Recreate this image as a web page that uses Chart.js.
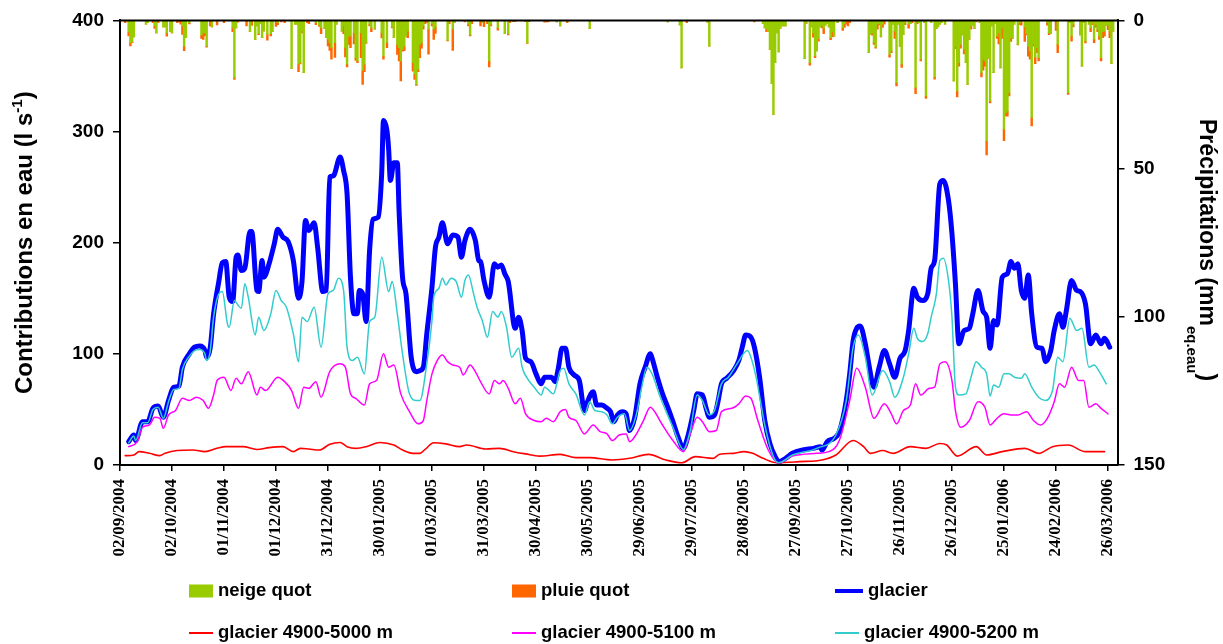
<!DOCTYPE html>
<html>
<head>
<meta charset="utf-8">
<script src="https://cdn.jsdelivr.net/npm/chart.js@4.4.0/dist/chart.umd.min.js"></script>
<style>
  html, body { margin: 0; padding: 0; background: #fff; }
  #wrap { width: 1223px; height: 644px; }
</style>
</head>
<body>
<div id="wrap"><canvas id="chart" width="1223" height="644"></canvas></div>
<script>
// x axis = days since 02/09/2004
const tickDays = [0, 30, 60, 90, 120, 150, 180, 210, 240, 270, 300, 330, 360, 390, 420, 450, 480, 510, 540, 570];
const tickLabels = ['02/09/2004', '02/10/2004', '01/11/2004', '01/12/2004', '31/12/2004', '30/01/2005',
  '01/03/2005', '31/03/2005', '30/04/2005', '30/05/2005', '29/06/2005', '29/07/2005', '28/08/2005',
  '27/09/2005', '27/10/2005', '26/11/2005', '26/12/2005', '25/01/2006', '24/02/2006', '26/03/2006'];

// daily precipitation (mm eq. eau), days without precipitation left out
const precipDays = [
  3, 5, 6, 7, 8, 15, 16, 19, 20, 21, 22, 25, 26, 27, 29, 30, 33, 34, 35, 36, 37, 38, 40,
  47, 48, 49, 50, 52, 53, 56, 60, 65, 66, 67, 68, 73, 75, 76, 78, 79, 80, 81, 82, 83, 85, 87, 88, 90, 91, 93, 95,
  99, 101, 102, 103, 104, 105, 106, 108, 109, 113, 115, 116, 118, 119, 120, 121, 122, 124, 125, 128, 129, 130, 131, 132, 133, 135, 136, 137, 139, 140, 141, 142, 144, 145, 147,
  151, 152, 154, 157, 158, 160, 161, 162, 163, 164, 165, 166, 169, 170, 171, 172, 173, 174, 175, 176, 177, 178, 180, 181, 182,
  189, 190, 192, 193, 199, 201, 202, 203, 208, 209, 210, 212, 213, 214, 218, 222, 224, 225, 227, 228, 234, 235, 236, 245, 246, 247, 252, 254, 258, 271, 316, 323, 324, 327, 339, 340,
  366, 371, 372, 373, 374, 375, 376, 377, 378, 379, 380, 381, 382, 383, 384, 395, 396, 398, 399, 400, 401, 402, 403, 404, 405, 406, 407, 408, 409, 410, 411, 412, 414, 417, 418, 419, 420, 421,
  432, 433, 434, 435, 436, 437, 438, 439, 440, 441, 444, 445, 446, 447, 448, 449, 450, 451, 452, 453, 455, 456, 457, 459, 460, 461, 462, 464, 465, 468, 470, 471, 472, 473, 474, 476,
  481, 482, 483, 484, 485, 486, 487, 488, 489, 490, 491, 492, 493, 494, 496, 497, 498, 499, 500, 501, 502, 503, 504, 505, 506, 507, 508, 509, 510, 511, 512, 513, 514, 515, 516, 518, 519, 520, 522, 523, 524, 525, 526, 527, 528, 529, 530,
  535, 536, 537, 540, 541, 547, 548, 549, 550, 554, 555, 556, 557, 559, 560, 561, 562, 563, 564, 565, 566, 567, 568, 569, 570, 571, 572, 573
];
const snowMm = [
  0, 3.9, 7.5, 7.2, 5.6, 1.3, 0.8, 0, 1.9, 4.2, 0, 2.2, 2.2, 4.2, 3.8, 4.2, 0, 0, 0, 1.9, 8.7, 5.8, 0.8,
  5, 4.2, 4.2, 8.7, 0, 2.2, 0, 0, 2.5, 19.3, 2.5, 0, 0, 3.8, 0, 6.4, 1.9, 4.5, 1, 5.8, 3.4, 4.7, 4.5, 3.8, 0, 0.8, 0, 0,
  16.2, 1.3, 1.3, 14.8, 14.3, 3.6, 17.6, 0, 0, 0.8, 1.6, 2.5, 2.7, 5.8, 6.4, 7.5, 9.2, 7.5, 1.3, 3.6, 1.9, 9.2, 14.8, 5.3, 5.3, 4.2, 12.6, 13.7, 4.2, 16.9, 14.8, 7.5, 1.3, 2.5, 3,
  4.2, 12, 7.5, 2.2, 5.8, 8.1, 9.2, 13.7, 9.8, 8.7, 5.3, 3.6, 14.3, 18.2, 21.6, 16.5, 8.1, 7.5, 1.9, 0, 0, 3, 1.1, 3, 2.2,
  6.7, 0, 3, 0.8, 0, 1.3, 4.9, 0, 0, 0.8, 0, 0, 13.7, 1.3, 2.5, 4.5, 4.5, 0, 0, 0, 0, 7.5, 0, 0.3, 0, 0, 0.5, 1.9, 0.3, 2.8, 0.5, 1.5, 16, 0, 0.6, 8.7,
  0, 1.1, 2.5, 3, 3.8, 9.8, 21.3, 31.7, 14.3, 4.2, 10.6, 2.7, 1.9, 1.9, 1.9, 12.9, 0.8, 14.3, 2.2, 4.2, 12, 10.3, 6.1, 2.2, 1.6, 2.7, 1.6, 1.1, 2.2, 5.8, 3.8, 5.3, 0.8, 2.5, 1.1, 0, 0, 0,
  10.9, 4.7, 4.2, 7.5, 9, 1.3, 1.1, 5.6, 1.3, 0, 11.5, 10.3, 1.3, 3.6, 21, 1.3, 8.7, 14.8, 4.7, 0.8, 1.3, 1.1, 0, 22.7, 0, 0.8, 13.1, 0.8, 25.5, 0.8, 19.1, 2.7, 2.2, 1.3, 0.8, 1.3,
  20.4, 8.7, 23.8, 14.3, 8.1, 4.9, 9.8, 14.3, 21.6, 6.1, 1.9, 1.6, 2.7, 0, 0.8, 17.6, 13.1, 13.7, 40.7, 12.6, 27.2, 1.9, 17.6, 1.1, 5.3, 4.2, 16, 2.5, 36.7, 31.1, 30.6, 24.4, 5.8, 6.1, 1.3, 8.1, 0.8, 0, 2.2, 4.5, 8.7, 10.3, 32.8, 8.1, 12.4, 9.2, 12.6,
  0.8, 4.2, 4.5, 0, 8.1, 24.4, 0.8, 5.3, 1.3, 4.9, 15.4, 0.8, 7, 1.3, 2.5, 0.8, 6.4, 1.3, 3, 5.3, 12.6, 3.8, 3.6, 1.6, 1.6, 3.6, 14.6, 3.6
];
const rainMm = [
  0.8, 1.3, 1.1, 0.3, 0, 0, 0, 0.8, 0.8, 0, 0.8, 0, 0, 1.1, 0, 0, 0.8, 0.5, 1.3, 2.8, 1.5, 0, 0.4,
  1.1, 2.2, 1, 0.3, 1.9, 0, 1.5, 0.8, 1.3, 0.6, 0, 0.6, 1.9, 0, 1.7, 0, 0, 0.3, 0, 0, 0.2, 2, 0.7, 0, 2, 0.6, 0.5, 0.8,
  0, 0, 0, 2.5, 0.4, 0.6, 0, 0.8, 1.1, 0.6, 0.4, 2, 0, 0, 2.2, 2.6, 3.9, 5, 0, 0, 2.6, 3.1, 0.9, 2.8, 3.9, 3.7, 0.9, 0.6, 8.4, 4.7, 2.5, 0.3, 0.6, 1.3, 0,
  1.7, 1.1, 1.7, 0.3, 0, 3.4, 4.5, 6.7, 0.6, 1.5, 0, 2.2, 2.8, 1.7, 0.3, 0.8, 4.5, 1.9, 1.1, 1.1, 0.8, 8.4, 0.8, 3.4, 2.2,
  0.2, 1.1, 7.1, 0, 0.5, 0.6, 0.3, 1.1, 1.9, 0, 2.1, 1.1, 2, 0.6, 0.8, 0, 0.4, 0.8, 0.4, 0.4, 0.4, 0.3, 0.4, 0.3, 0.5, 0.5, 0, 0, 0.5, 0, 0, 0, 0, 0.8, 0, 0,
  0.5, 0, 0, 0.8, 0, 0, 0, 0, 0, 0, 0, 0, 0, 0, 0, 0, 0.2, 0.8, 0, 1.5, 0.6, 0, 0.9, 0, 0.9, 1.8, 0, 0, 0, 0.7, 1.8, 0, 0, 0.9, 1.3, 1.3, 1.9, 0.8,
  0, 0, 0.8, 0.6, 0.4, 1.7, 0.4, 0, 1.1, 1.3, 0.9, 0.6, 0, 2.5, 1.1, 0, 0, 1.1, 0, 0.6, 1.3, 0, 0.8, 2, 1.1, 0, 0.6, 0, 0.8, 0, 0.7, 0, 0, 0, 0, 0,
  0, 0.8, 2, 1.1, 1.3, 0, 1.5, 0, 0, 0.3, 1.1, 0, 0, 0.5, 0, 1.5, 3.7, 1.7, 4.7, 0.2, 0.6, 0, 0, 0, 0.8, 3.7, 0, 3.6, 3.9, 1.1, 1.7, 1.1, 1.3, 0, 0, 0.2, 0.6, 1.6, 4.9, 0.4, 3.4, 2.8, 2.8, 0.6, 2.2, 1.7, 1.1,
  0.8, 0.6, 0, 3.4, 2.8, 0.6, 0, 1.7, 0.9, 0, 0, 0, 0.6, 0, 1.3, 0.6, 1.1, 1.1, 0.8, 1.1, 1.1, 2, 1.7, 0, 1.5, 2.2, 0, 0
];

// contributions en eau (l/s)
const glacierDays = [
  5, 8, 9, 13, 16, 19, 22, 25, 28, 31, 34, 36, 40, 43, 46, 49, 50, 52, 54, 57, 59, 61, 63, 65, 67, 68, 70, 72, 75, 76,
  79, 80, 82, 83, 86, 89, 91, 94, 97, 100, 103, 105, 107, 109, 112, 114, 117, 119, 121, 123, 127, 129, 131, 133, 135, 137, 138, 140, 142, 144,
  146, 149, 151, 152, 154, 155, 156, 158, 160, 161, 163, 165, 168, 171,
  173, 175, 177, 180, 182, 184, 186, 189, 192, 195, 197, 199, 202, 205, 207, 208, 210, 213, 216, 218, 220, 222, 224, 228, 230, 232, 234, 237, 240, 243,
  245, 249, 251, 253, 255, 257, 259, 262, 265, 268, 270, 273, 275, 278, 281, 283, 285, 287, 290, 292, 294, 297, 300, 303, 306, 307, 310, 313, 316, 319,
  322, 325, 328, 331, 333, 336, 338, 340, 343, 345, 347, 350, 354, 357, 359, 361, 364, 366,
  369, 372, 375, 378, 380, 384, 388, 394, 400, 404, 405, 408, 412, 415, 419, 421, 423, 425, 427, 430, 432, 435, 438, 441, 444, 447, 450, 453, 455, 458,
  460, 463, 466, 468, 470, 473, 475, 478, 480, 482, 484, 487, 490, 492, 495, 498, 500, 502, 504, 506, 509, 512, 514, 516, 518, 520, 522, 524, 526, 529,
  532, 534, 537, 539, 542, 544, 546, 549, 552, 554, 557, 560, 563, 566, 568, 571
];
const glacierFlow = [
  21, 27, 22, 39, 39, 51, 53, 43, 58, 70, 71, 88, 100, 106, 107, 103, 97, 105, 136, 165, 182, 183, 151, 147, 187, 189, 175, 177, 210, 210,
  157, 156, 184, 169, 181, 199, 212, 205, 201, 184, 150, 165, 220, 211, 218, 196, 156, 157, 259, 260, 277, 265, 244, 168, 136, 136, 157, 154, 129, 193,
  221, 223, 263, 310, 301, 284, 256, 272, 272, 229, 169, 154, 97, 84,
  85, 88, 118, 160, 196, 205, 218, 199, 207, 205, 187, 202, 212, 202, 184, 183, 166, 151, 181, 178, 180, 172, 165, 123, 133, 121, 96, 93, 82, 73,
  79, 79, 75, 88, 105, 105, 88, 81, 76, 49, 58, 66, 54, 54, 51, 48, 39, 45, 48, 46, 31, 43, 73, 88, 100, 96, 79, 64, 52, 39,
  25, 15, 28, 49, 64, 63, 52, 43, 45, 57, 73, 78, 85, 94, 106, 117, 115, 106,
  79, 40, 19, 7.5, 3, 6, 10.5, 13.5, 15, 16.5, 13.5, 21, 24, 30, 58, 82, 112, 123, 125, 109, 91, 70, 88, 103, 91, 79, 96, 103, 121, 159,
  151, 148, 154, 177, 184, 253, 256, 238, 208, 163, 109, 121, 123, 136, 157, 138, 133, 105, 130, 126, 169, 172, 183, 177, 181, 157, 150, 171, 136, 106,
  105, 93, 103, 121, 136, 124, 139, 166, 157, 156, 145, 109, 117, 109, 114, 106
];

const band5000Days = [
  3, 8, 11, 17, 23, 26, 33, 42, 49, 56, 61, 71, 79, 86, 94, 100, 104, 109, 115, 121,
  127, 131, 136, 142, 150, 158, 163, 169, 173, 176, 181, 188, 196, 200, 211, 219, 227, 234, 242, 254,
  263, 271, 284, 294, 305, 315, 324, 332, 342, 346, 354, 360, 365, 371, 379, 392, 405, 413, 423, 429,
  433, 440, 446, 456, 465, 473, 477, 483, 494, 500, 509, 522, 530, 538, 547, 557, 568
];
const band5000Flow = [
  8.4, 9, 12, 10.5, 8.4, 10.5, 13, 13.5, 12, 15, 16.5, 16.5, 14, 15.6, 16.5, 12, 15, 14.4, 13.5, 18.6,
  20.3, 16.5, 15, 16.5, 20.3, 18, 13.5, 10.5, 10.5, 14, 20, 19, 16.5, 18, 14.4, 15, 12, 10, 8, 9.6,
  6.6, 6.6, 4.5, 6, 9.6, 4.5, 2, 7.5, 6, 9.6, 10.5, 12, 10.5, 6, 2, 3, 4.5, 9, 22, 16.5,
  10.5, 13, 10.5, 16.5, 15, 19.4, 18, 8, 16.5, 9, 12, 15, 10.5, 16.5, 18, 12, 12
];

const band5100Days = [
  5, 10, 13, 17, 20, 23, 25, 28, 32, 36, 40, 44, 48, 51, 54, 56, 60, 64, 67, 70,
  74, 79, 81, 84, 91, 95, 99, 103, 106, 109, 113, 116, 121, 127, 130, 133, 136, 141, 144, 148,
  152, 155, 158, 162, 167, 172, 175, 177, 180, 183, 186, 189, 192, 196, 198, 202, 205, 208, 213, 216,
  219, 221, 224, 228, 231, 234, 239, 243, 246, 250, 254, 257, 259, 263, 268, 273, 277, 281, 284, 288,
  292, 294, 298, 302, 306, 308, 313, 319, 325, 329, 333, 336, 340, 344, 347, 353, 357, 361, 364, 368,
  374, 380, 388, 402, 409, 415, 421, 425, 430, 435, 441, 445, 448, 452, 456, 459, 462, 467, 470, 473,
  476, 480, 482, 485, 490, 495, 499, 502, 506, 510, 515, 518, 523, 527, 531, 535, 539, 542, 545, 549,
  553, 556, 559, 563, 566, 570
];
const band5100Flow = [
  16.5, 21, 34, 36, 43, 42, 33, 45, 49, 60, 58, 61, 58, 51, 63, 76, 79, 67, 78, 73,
  84, 63, 70, 67, 79, 75, 67, 51, 70, 69, 75, 61, 84, 91, 88, 64, 60, 54, 73, 76,
  100, 88, 90, 64, 48, 37, 40, 58, 82, 94, 99, 93, 90, 88, 81, 90, 84, 75, 64, 76,
  73, 76, 69, 55, 60, 46, 40, 39, 42, 39, 48, 50, 43, 40, 28, 36, 30, 28, 22, 27,
  28, 21, 28, 40, 52, 49, 36, 22, 12, 28, 43, 39, 30, 31, 48, 51, 55, 62, 60, 40,
  13.5, 2, 8, 10.5, 12, 22, 58, 87, 70, 42, 55, 46, 37, 49, 54, 73, 63, 69, 70, 91,
  93, 76, 49, 34, 40, 57, 52, 36, 42, 46, 45, 45, 48, 40, 36, 42, 57, 73, 70, 88,
  76, 76, 52, 55, 51, 46
];

const band5200Days = [
  5, 8, 9, 13, 16, 19, 22, 25, 28, 31, 34, 36, 40, 43, 46, 49, 50, 52, 54, 57,
  59, 62, 63, 66, 68, 70, 72, 74, 78, 80, 83, 87, 90, 93, 96, 100, 103, 105, 108, 112,
  116, 120, 123, 126, 129, 131, 134, 137, 141, 144, 147, 151, 155, 157, 160, 163, 167, 171, 173, 177,
  180, 181, 184, 186, 188, 191, 194, 197, 199, 201, 204, 206, 209, 212, 215, 218, 220, 223, 226, 230,
  232, 235, 239, 243, 245, 250, 254, 256, 259, 263, 268, 271, 274, 278, 281, 284, 287, 291, 294, 298,
  301, 304, 307, 311, 319, 325, 329, 333, 336, 340, 343, 347, 351, 356, 362, 364, 367, 369, 372, 377,
  380, 388, 402, 413, 419, 423, 426, 430, 434, 440, 444, 447, 452, 455, 458, 460, 463, 466, 468, 471,
  473, 475, 478, 480, 482, 484, 488, 491, 494, 497, 500, 502, 504, 507, 510, 513, 516, 520, 522, 526,
  530, 534, 538, 541, 544, 548, 552, 555, 559, 562, 565, 569
];
const band5200Flow = [
  20, 26, 22, 38, 38, 50, 52, 42, 57, 68, 69, 86, 98, 103, 104, 100, 94, 102, 133, 154,
  156, 127, 124, 148, 144, 141, 163, 151, 117, 133, 121, 136, 157, 148, 142, 118, 93, 133, 129, 142,
  106, 154, 157, 168, 157, 106, 94, 97, 82, 129, 133, 187, 156, 165, 136, 100, 64, 58, 58, 91,
  130, 151, 159, 168, 162, 168, 165, 151, 166, 171, 154, 142, 130, 115, 138, 133, 138, 124, 97, 105,
  88, 78, 70, 63, 70, 64, 85, 87, 73, 64, 45, 57, 49, 48, 45, 37, 43, 46, 31, 46,
  70, 88, 82, 64, 34, 14, 31, 63, 58, 45, 49, 73, 79, 91, 103, 97, 79, 62, 36, 7.5,
  2, 9, 15, 27, 58, 106, 117, 97, 63, 85, 75, 61, 79, 100, 123, 114, 111, 118, 133, 154,
  184, 186, 166, 133, 70, 63, 64, 79, 93, 88, 82, 62, 72, 70, 82, 82, 79, 78, 82, 70,
  61, 58, 67, 97, 93, 132, 121, 123, 88, 90, 84, 73
];

const SANS = "'Liberation Sans', Arial, sans-serif";
const SERIF = "'Liberation Serif', 'Times New Roman', serif";

function toXY(xs, ys) {
  return xs.map((x, i) => ({ x: x, y: ys[i] }));
}

// text with sub/superscript pieces, centred on (x, y), rotated
function drawRich(ctx, parts, x, y, angle) {
  ctx.save();
  ctx.translate(x, y);
  ctx.rotate(angle);
  ctx.fillStyle = '#000';
  ctx.textAlign = 'left';
  ctx.textBaseline = 'alphabetic';
  let total = 0;
  const widths = parts.map(p => {
    ctx.font = 'bold ' + p.size + 'px ' + SANS;
    const w = ctx.measureText(p.text).width;
    total += w;
    return w;
  });
  let cx = -total / 2;
  parts.forEach((p, i) => {
    ctx.font = 'bold ' + p.size + 'px ' + SANS;
    ctx.fillText(p.text, cx, p.dy || 0);
    cx += widths[i];
  });
  ctx.restore();
}

const decor = {
  id: 'decor',
  afterDraw(chart) {
    const ctx = chart.ctx;
    const area = chart.chartArea;
    ctx.save();

    // line along the top (base of the precipitation bars)
    ctx.strokeStyle = '#000';
    ctx.lineWidth = 2;
    ctx.beginPath();
    ctx.moveTo(area.left, area.top);
    ctx.lineTo(area.right, area.top);
    ctx.stroke();

    // axis titles
    const midY = (area.top + area.bottom) / 2;
    drawRich(ctx, [
      { text: 'Contributions en eau (l s', size: 24 },
      { text: '-1', size: 15, dy: -10 },
      { text: ')', size: 24 }
    ], 32, midY, -Math.PI / 2);
    drawRich(ctx, [
      { text: 'Précipitations (mm', size: 23 },
      { text: 'eq.eau', size: 15, dy: 13 },
      { text: ')', size: 23 }
    ], 1200, 250, Math.PI / 2);

    // legend, 3 columns x 2 rows
    const cols = [189, 512, 835];
    const rows = [591, 633];
    ctx.font = 'bold 18.5px ' + SANS;
    ctx.textBaseline = 'middle';
    ctx.textAlign = 'left';
    chart.data.datasets.forEach((ds, i) => {
      const x = cols[i % 3];
      const y = rows[Math.floor(i / 3)];
      let markW = 24;
      if (ds.type === 'bar') {
        ctx.fillStyle = ds.backgroundColor;
        ctx.fillRect(x, y - 6.5, 24, 13);
      } else {
        markW = i === 2 ? 28 : 24;
        ctx.strokeStyle = ds.borderColor;
        ctx.lineWidth = i === 2 ? 4 : 2;
        ctx.beginPath();
        ctx.moveTo(x, y);
        ctx.lineTo(x + markW, y);
        ctx.stroke();
      }
      ctx.fillStyle = '#000';
      ctx.fillText(ds.label, x + markW + 5, y);
    });
    ctx.restore();
  }
};

new Chart(document.getElementById('chart'), {
  type: 'line',
  data: {
    datasets: [
      {
        type: 'bar', label: 'neige quot', data: toXY(precipDays, snowMm),
        backgroundColor: '#99CC00', borderWidth: 0, yAxisID: 'y2', stack: 'precip',
        barThickness: 1.8, order: 10
      },
      {
        type: 'bar', label: 'pluie quot', data: toXY(precipDays, rainMm),
        backgroundColor: '#FF6600', borderWidth: 0, yAxisID: 'y2', stack: 'precip',
        barThickness: 1.8, order: 10
      },
      {
        label: 'glacier', data: toXY(glacierDays, glacierFlow),
        borderColor: '#0000FF', borderWidth: 5, yAxisID: 'y', order: 4
      },
      {
        label: 'glacier 4900-5000 m', data: toXY(band5000Days, band5000Flow),
        borderColor: '#FF0000', borderWidth: 1.6, yAxisID: 'y', order: 3
      },
      {
        label: 'glacier 4900-5100 m', data: toXY(band5100Days, band5100Flow),
        borderColor: '#FF00FF', borderWidth: 1.5, yAxisID: 'y', order: 2
      },
      {
        label: 'glacier 4900-5200 m', data: toXY(band5200Days, band5200Flow),
        borderColor: '#33CCCC', borderWidth: 1.5, yAxisID: 'y', order: 1
      }
    ]
  },
  options: {
    responsive: false,
    animation: false,
    devicePixelRatio: 1,
    layout: { padding: { top: 19, left: 0, right: 0, bottom: 0 } },
    plugins: { legend: { display: false }, tooltip: { enabled: false } },
    elements: {
      point: { radius: 0, hoverRadius: 0 },
      line: { cubicInterpolationMode: 'monotone', borderJoinStyle: 'round', borderCapStyle: 'round' }
    },
    scales: {
      x: {
        type: 'linear', position: 'bottom', min: 0, max: 575.5, offset: false,
        afterBuildTicks: s => { s.ticks = tickDays.map(v => ({ value: v })); },
        afterFit: s => { s.height = 179; },
        ticks: {
          autoSkip: false, minRotation: 90, maxRotation: 90, padding: 8, color: '#000',
          font: { family: SERIF, size: 17, weight: 'bold' },
          callback: (v, i) => tickLabels[i]
        },
        grid: { drawOnChartArea: false, drawTicks: true, tickLength: 6, color: '#000', lineWidth: 1.5, offset: false },
        border: { color: '#000', width: 2 }
      },
      y: {
        type: 'linear', position: 'left', min: 0, max: 400,
        afterFit: s => { s.width = 120; },
        ticks: { stepSize: 100, padding: 9, color: '#000', font: { family: SANS, size: 19, weight: 'bold' } },
        grid: { drawOnChartArea: false, drawTicks: true, tickLength: 7, color: '#000', lineWidth: 1.5 },
        border: { color: '#000', width: 2 }
      },
      y2: {
        type: 'linear', position: 'right', min: 0, max: 150, reverse: true,
        afterFit: s => { s.width = 105.5; },
        ticks: { stepSize: 50, padding: 9, color: '#000', font: { family: SANS, size: 19, weight: 'bold' } },
        grid: { drawOnChartArea: false, drawTicks: true, tickLength: 7, color: '#000', lineWidth: 1.5 },
        border: { color: '#000', width: 2 }
      }
    }
  },
  plugins: [decor]
});
</script>
</body>
</html>
